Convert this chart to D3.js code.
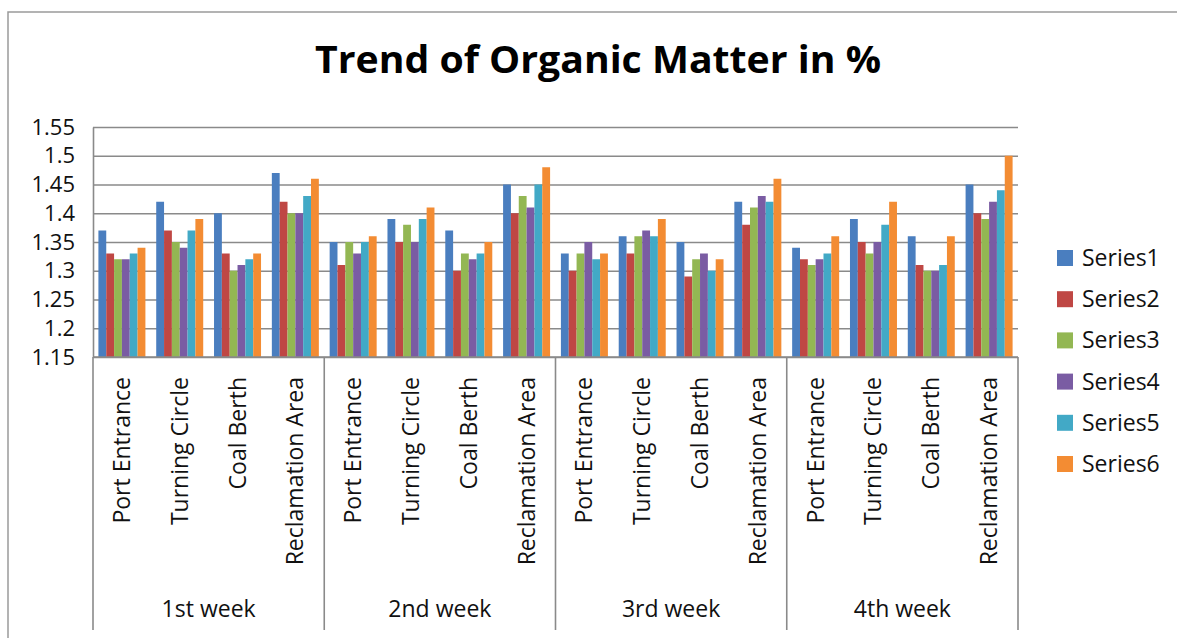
<!DOCTYPE html>
<html>
<head>
<meta charset="utf-8">
<script src="https://cdn.jsdelivr.net/npm/d3@7"></script>
<style>
  html, body { margin: 0; padding: 0; background: #fff; }
  svg { display: block; font-family: "Open Sans", sans-serif; }
</style>
</head>
<body>
<svg id="chart" width="1177" height="638"></svg>
<script>
// Organic matter (%) measured at four sites over four weeks, six series.
const weeks = ["1st week", "2nd week", "3rd week", "4th week"];
const sites = ["Port Entrance", "Turning Circle", "Coal Berth", "Reclamation Area"];
const seriesNames = ["Series1", "Series2", "Series3", "Series4", "Series5", "Series6"];

// Values in order: week 1 (4 sites), week 2, week 3, week 4
const series1 = [1.37, 1.42, 1.40, 1.47, 1.35, 1.39, 1.37, 1.45, 1.33, 1.36, 1.35, 1.42, 1.34, 1.39, 1.36, 1.45];
const series2 = [1.33, 1.37, 1.33, 1.42, 1.31, 1.35, 1.30, 1.40, 1.30, 1.33, 1.29, 1.38, 1.32, 1.35, 1.31, 1.40];
const series3 = [1.32, 1.35, 1.30, 1.40, 1.35, 1.38, 1.33, 1.43, 1.33, 1.36, 1.32, 1.41, 1.31, 1.33, 1.30, 1.39];
const series4 = [1.32, 1.34, 1.31, 1.40, 1.33, 1.35, 1.32, 1.41, 1.35, 1.37, 1.33, 1.43, 1.32, 1.35, 1.30, 1.42];
const series5 = [1.33, 1.37, 1.32, 1.43, 1.35, 1.39, 1.33, 1.45, 1.32, 1.36, 1.30, 1.42, 1.33, 1.38, 1.31, 1.44];
const series6 = [1.34, 1.39, 1.33, 1.46, 1.36, 1.41, 1.35, 1.48, 1.33, 1.39, 1.32, 1.46, 1.36, 1.42, 1.36, 1.50];

const yTicks = [1.15, 1.2, 1.25, 1.3, 1.35, 1.4, 1.45, 1.5, 1.55];
const colors = ["#4a7ebf", "#bf4744", "#93b753", "#7a5ca3", "#42a9c6", "#f38c33"];

const allSeries = [series1, series2, series3, series4, series5, series6];
const categories = [];
weeks.forEach(w => sites.forEach(s => categories.push(w + "|" + s)));

const svg = d3.select("#chart");
const plot = { left: 93, right: 1018, top: 127, bottom: 357 };
const labelSize = 23;
const tickSize = 22;

// outer chart frame (top and left edges)
svg.append("path")
  .attr("d", `M8,640 V12 H1177`)
  .attr("fill", "none")
  .attr("stroke", "#9a9a9a")
  .attr("stroke-width", 1.5);

// title
svg.append("text")
  .attr("x", 598).attr("y", 73)
  .attr("text-anchor", "middle")
  .attr("font-size", 37)
  .attr("font-weight", 700)
  .attr("textLength", 566)
  .attr("lengthAdjust", "spacingAndGlyphs")
  .attr("fill", "#000")
  .text("Trend of Organic Matter in %");

const x0 = d3.scaleBand().domain(categories).range([plot.left, plot.right]).paddingInner(0).paddingOuter(0);
const x1 = d3.scaleBand().domain(seriesNames).range([0, x0.bandwidth()]).paddingInner(0).paddingOuter(0.69);
const y = d3.scaleLinear().domain([1.15, 1.55]).range([plot.bottom, plot.top]);
const xWeek = d3.scaleBand().domain(weeks).range([plot.left, plot.right]).padding(0);

// horizontal gridlines
svg.append("g")
  .attr("transform", `translate(${plot.left},0)`)
  .call(d3.axisLeft(y).tickValues(yTicks).tickSize(-(plot.right - plot.left)).tickFormat(""))
  .call(g => g.select(".domain").remove())
  .call(g => g.selectAll("line").attr("stroke", "#8a8a8a").attr("stroke-width", 1.6));

// bars
const barRows = [];
categories.forEach((c, i) => allSeries.forEach((s, j) => barRows.push({ cat: c, series: seriesNames[j], value: s[i], color: colors[j] })));
svg.append("g").selectAll("rect")
  .data(barRows)
  .join("rect")
  .attr("x", d => x0(d.cat) + x1(d.series))
  .attr("width", x1.bandwidth())
  .attr("y", d => y(d.value))
  .attr("height", d => y(1.15) - y(d.value))
  .attr("fill", d => d.color);

// y axis
svg.append("g")
  .attr("transform", `translate(${plot.left},0)`)
  .call(d3.axisLeft(y).tickValues(yTicks).tickSize(0).tickPadding(18).tickFormat(d => String(+d.toFixed(2))))
  .call(g => g.select(".domain").attr("stroke", "#8a8a8a").attr("stroke-width", 1.6))
  .call(g => g.selectAll("text").attr("font-size", tickSize).attr("fill", "#111").attr("font-family", "Open Sans, sans-serif"));

// category axis line
svg.append("line")
  .attr("x1", plot.left).attr("x2", plot.right)
  .attr("y1", plot.bottom).attr("y2", plot.bottom)
  .attr("stroke", "#8a8a8a").attr("stroke-width", 1.6);

// week separators
const sepX = weeks.map(w => xWeek(w)).concat([plot.right]);
svg.append("g").selectAll("line")
  .data(sepX)
  .join("line")
  .attr("x1", d => d).attr("x2", d => d)
  .attr("y1", plot.bottom).attr("y2", 630)
  .attr("stroke", "#8a8a8a").attr("stroke-width", 1.6);

// site labels (rotated)
svg.append("g").selectAll("text")
  .data(categories)
  .join("text")
  .attr("transform", d => `translate(${x0(d) + x0.bandwidth() / 2 + 8},377) rotate(-90)`)
  .attr("text-anchor", "end")
  .attr("font-size", labelSize)
  .attr("fill", "#111")
  .text(d => d.split("|")[1]);

// week labels
svg.append("g").selectAll("text")
  .data(weeks)
  .join("text")
  .attr("x", d => xWeek(d) + xWeek.bandwidth() / 2)
  .attr("y", 617)
  .attr("text-anchor", "middle")
  .attr("font-size", labelSize)
  .attr("fill", "#111")
  .text(d => d);

// legend
const legend = svg.append("g").selectAll("g")
  .data(seriesNames)
  .join("g")
  .attr("transform", (d, i) => `translate(1057,${258 + i * 41.2})`);
legend.append("rect")
  .attr("x", 0).attr("y", -8)
  .attr("width", 16).attr("height", 16)
  .attr("fill", (d, i) => colors[i]);
legend.append("text")
  .attr("x", 25).attr("y", 8)
  .attr("font-size", labelSize)
  .attr("fill", "#111")
  .text(d => d);
</script>
</body>
</html>
